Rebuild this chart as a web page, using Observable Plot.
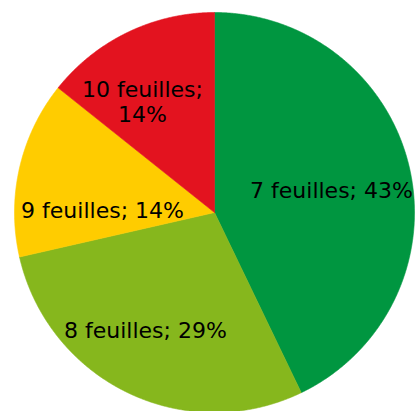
<!DOCTYPE html>
<html>
<head>
<meta charset="utf-8">
<script src="https://cdn.jsdelivr.net/npm/d3@7"></script>
<script src="https://cdn.jsdelivr.net/npm/@observablehq/plot@0.6"></script>
<style>
  html, body { margin: 0; padding: 0; background: #fff; }
  #chart svg { display: block; }
</style>
</head>
<body>
<div id="chart"></div>
<script>
const categories = ["7 feuilles", "8 feuilles", "9 feuilles", "10 feuilles"];
const counts = [3, 2, 1, 1];
const colors = ["#009640", "#86b71d", "#ffcc00", "#e3131f"];

const total = d3.sum(counts);
const arcs = d3.pie().sort(null).value(d => d)(counts);

// slice outlines (center + arc samples), in unit-circle coordinates
const slicePts = [];
arcs.forEach((a, i) => {
  slicePts.push({cat: categories[i], x: 0, y: 0});
  const n = Math.max(2, Math.ceil((a.endAngle - a.startAngle) / (Math.PI / 720)));
  for (let k = 0; k <= n; k++) {
    const t = a.startAngle + (a.endAngle - a.startAngle) * k / n;
    slicePts.push({cat: categories[i], x: Math.sin(t), y: Math.cos(t)});
  }
  slicePts.push({cat: categories[i], x: 0, y: 0});
});

const labels = arcs.map((a, i) => {
  const m = (a.startAngle + a.endAngle) / 2;
  const pct = Math.round(counts[i] / total * 100) + "%";
  return {
    cat: categories[i],
    text: categories[i] === "10 feuilles" ? `${categories[i]};\n${pct}` : `${categories[i]}; ${pct}`,
    x: 0.6 * Math.sin(m),
    y: 0.6 * Math.cos(m)
  };
});

const nudges = {
  "7 feuilles": [0, 4],
  "8 feuilles": [-17, 9],
  "9 feuilles": [5, 24],
  "10 feuilles": [-20, -3]
};

const textMarks = labels.map(l => Plot.text([l], {
  x: "x", y: "y", text: "text",
  dx: nudges[l.cat][0], dy: nudges[l.cat][1],
  fill: "#000", fontSize: 22, lineHeight: 1.14,
  fontFamily: "DejaVu Sans"
}));

const chart = Plot.plot({
  width: 415,
  height: 411,
  margin: 0,
  x: {domain: [-1, 1], range: [14, 414], axis: null},
  y: {domain: [-1, 1], range: [412, 12], axis: null},
  color: {domain: categories, range: colors},
  style: {background: "#fff", fontFamily: "DejaVu Sans", overflow: "hidden"},
  marks: [
    Plot.line(slicePts, {x: "x", y: "y", z: "cat", fill: "cat", stroke: "cat", strokeWidth: 0.6, curve: "linear"}),
    ...textMarks
  ]
});
document.getElementById("chart").appendChild(chart);
</script>
</body>
</html>
